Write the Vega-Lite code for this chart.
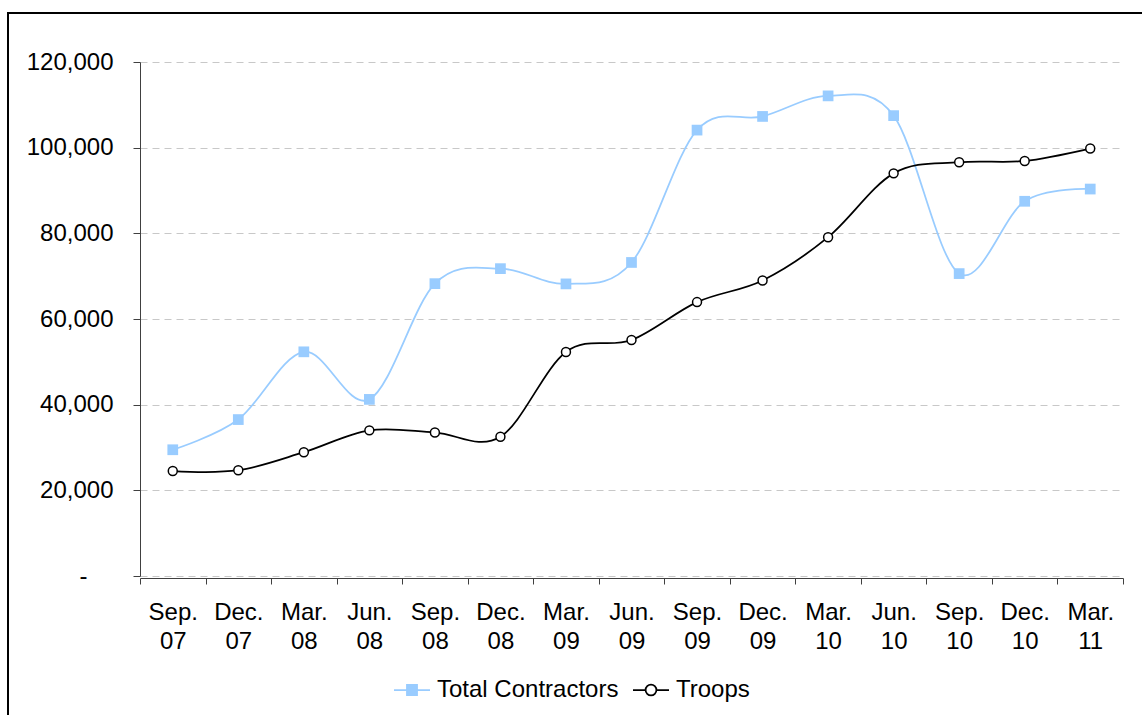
{
  "$schema": "https://vega.github.io/schema/vega-lite/v6.json",
  "autosize": {"type": "none"},
  "padding": {"left": 8, "top": 13, "right": -2, "bottom": -2},
  "width": 1136,
  "height": 704,
  "background": "#ffffff",
  "config": {
    "view": {"stroke": "#000000", "strokeWidth": 2},
    "font": "Liberation Sans",
    "axis": {"labelFont": "Liberation Sans", "labelColor": "#000000", "domainColor": "#404040", "tickColor": "#404040", "domainWidth": 1, "tickWidth": 1}
  },
  "data": {
    "values": [
      {"period": "Sep. 07", "series": "Total Contractors", "value": 29473},
      {"period": "Dec. 07", "series": "Total Contractors", "value": 36520},
      {"period": "Mar. 08", "series": "Total Contractors", "value": 52336},
      {"period": "Jun. 08", "series": "Total Contractors", "value": 41232},
      {"period": "Sep. 08", "series": "Total Contractors", "value": 68252},
      {"period": "Dec. 08", "series": "Total Contractors", "value": 71755},
      {"period": "Mar. 09", "series": "Total Contractors", "value": 68197},
      {"period": "Jun. 09", "series": "Total Contractors", "value": 73200},
      {"period": "Sep. 09", "series": "Total Contractors", "value": 104101},
      {"period": "Dec. 09", "series": "Total Contractors", "value": 107292},
      {"period": "Mar. 10", "series": "Total Contractors", "value": 112092},
      {"period": "Jun. 10", "series": "Total Contractors", "value": 107479},
      {"period": "Sep. 10", "series": "Total Contractors", "value": 70599},
      {"period": "Dec. 10", "series": "Total Contractors", "value": 87483},
      {"period": "Mar. 11", "series": "Total Contractors", "value": 90339},
      {"period": "Sep. 07", "series": "Troops", "value": 24500},
      {"period": "Dec. 07", "series": "Troops", "value": 24700},
      {"period": "Mar. 08", "series": "Troops", "value": 28900},
      {"period": "Jun. 08", "series": "Troops", "value": 34000},
      {"period": "Sep. 08", "series": "Troops", "value": 33500},
      {"period": "Dec. 08", "series": "Troops", "value": 32500},
      {"period": "Mar. 09", "series": "Troops", "value": 52300},
      {"period": "Jun. 09", "series": "Troops", "value": 55107},
      {"period": "Sep. 09", "series": "Troops", "value": 63950},
      {"period": "Dec. 09", "series": "Troops", "value": 69000},
      {"period": "Mar. 10", "series": "Troops", "value": 79100},
      {"period": "Jun. 10", "series": "Troops", "value": 94000},
      {"period": "Sep. 10", "series": "Troops", "value": 96600},
      {"period": "Dec. 10", "series": "Troops", "value": 96900},
      {"period": "Mar. 11", "series": "Troops", "value": 99800}
    ]
  },
  "encoding": {
    "x": {
      "field": "period", "type": "nominal", "sort": null,
      "scale": {"type": "band", "range": [132, 1115], "paddingInner": 0, "paddingOuter": 0},
      "axis": {
        "title": null, "tickBand": "extent", "labelExpr": "split(datum.label, ' ')",
        "labelFontSize": 24, "labelAngle": 0, "labelPadding": 16, "labelLineHeight": 29,
        "tickSize": 6, "offset": -139, "grid": false, "labelBound": false, "labelOverlap": false
      }
    },
    "y": {
      "field": "value", "type": "quantitative",
      "scale": {"domain": [0, 120000], "range": [563, 49], "nice": false, "zero": true},
      "axis": {
        "title": null, "values": [0, 20000, 40000, 60000, 80000, 100000, 120000],
        "format": ",d", "labelExpr": "datum.value === 0 ? '-' : datum.label",
        "labelFontSize": 24, "tickSize": 7, "offset": -132,
        "labelPadding": {"condition": {"test": "datum.value === 0", "value": 46}, "value": 20},
        "grid": true, "gridColor": "#c8c8c8", "gridDash": [7, 5], "gridWidth": 1
      }
    }
  },
  "layer": [
    {
      "mark": {"type": "line", "interpolate": "cardinal", "strokeWidth": 1.75},
      "encoding": {
        "color": {
          "field": "series", "type": "nominal",
          "scale": {"domain": ["Total Contractors", "Troops"], "range": ["#99ccff", "#000000"]},
          "legend": {
            "orient": "none", "legendX": 385, "legendY": 658, "direction": "horizontal",
            "title": null, "symbolSize": 1296, "labelFontSize": 24, "labelFont": "Liberation Sans",
            "labelColor": "#000000", "labelOffset": 6, "labelLimit": 0, "columnPadding": 10, "padding": 0,
            "encode": {
              "symbols": {
                "update": {
                  "shape": {"signal": "datum.label === 'Troops' ? 'M-1,0H-0.3M0.3,0H1M-0.3,0A0.3,0.3 0 1 0 0.3,0A0.3,0.3 0 1 0 -0.3,0Z' : 'M-1,0H1M-0.28,-0.28H0.28V0.28H-0.28Z'"},
                  "fill": {"signal": "datum.label === 'Troops' ? '#ffffff' : '#99ccff'"},
                  "stroke": {"signal": "datum.label === 'Troops' ? '#000000' : '#99ccff'"},
                  "strokeWidth": {"value": 1.75},
                  "opacity": {"value": 1},
                  "fillOpacity": {"value": 1}
                }
              }
            }
          }
        }
      }
    },
    {
      "transform": [{"filter": "datum.series === 'Total Contractors'"}],
      "mark": {"type": "point", "shape": "square", "filled": true, "size": 115, "color": "#99ccff", "opacity": 1}
    },
    {
      "transform": [{"filter": "datum.series === 'Troops'"}],
      "mark": {"type": "point", "shape": "circle", "filled": false, "size": 80, "fill": "#ffffff", "fillOpacity": 1, "stroke": "#000000", "strokeWidth": 1.5, "opacity": 1}
    }
  ]
}
